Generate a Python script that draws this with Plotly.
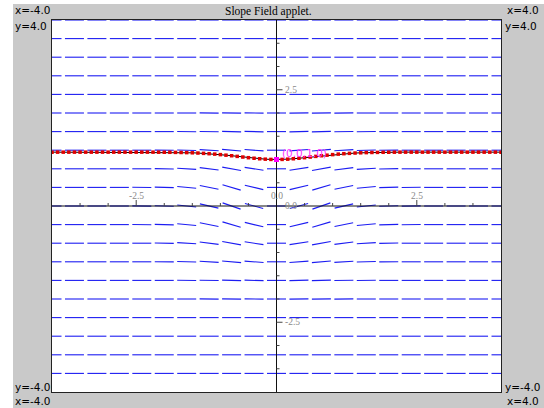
import math
import plotly.graph_objects as go

# ---------------- data ----------------
x_cols = [-4.0, -3.6, -3.2, -2.8, -2.4, -2.0, -1.6, -1.2, -0.8, -0.4, 0.0,
          0.4, 0.8, 1.2, 1.6, 2.0, 2.4, 2.8, 3.2, 3.6, 4.0]
y_rows = [4.0, 3.6, 3.2, 2.8, 2.4, 2.0, 1.6, 1.2, 0.8, 0.4, 0.0,
          -0.4, -0.8, -1.2, -1.6, -2.0, -2.4, -2.8, -3.2, -3.6]

flat_row = [0.0] * 21
row_y20 = [0, 0, 0, 0, 0, 0, 0, -0.01, -0.01, -0.01, 0, 0.01, 0.01, 0.01, 0, 0, 0, 0, 0, 0, 0]
row_y16 = [0, 0, 0, 0, 0, 0, -0.01, -0.02, -0.03, -0.03, 0, 0.03, 0.03, 0.02, 0.01, 0, 0, 0, 0, 0, 0]
row_y12 = [0, 0, 0, 0, 0, -0.01, -0.03, -0.07, -0.10, -0.08, 0, 0.08, 0.10, 0.07, 0.03, 0.01, 0, 0, 0, 0, 0]
row_y08 = [0, 0, 0, 0, 0, -0.02, -0.07, -0.15, -0.22, -0.18, 0, 0.18, 0.22, 0.15, 0.07, 0.02, 0, 0, 0, 0, 0]
row_y04 = [0, 0, 0, 0, -0.01, -0.03, -0.11, -0.24, -0.36, -0.29, 0, 0.29, 0.36, 0.24, 0.11, 0.03, 0.01, 0, 0, 0, 0]
row_y00 = [0, 0, 0, 0, -0.01, -0.04, -0.12, -0.28, -0.42, -0.34, 0, 0.34, 0.42, 0.28, 0.12, 0.04, 0.01, 0, 0, 0, 0]

slopes = [flat_row, flat_row, flat_row, flat_row, flat_row,
          row_y20, row_y16, row_y12, row_y08, row_y04, row_y00,
          row_y04, row_y08, row_y12, row_y16, row_y20,
          flat_row, flat_row, flat_row, flat_row]

curve_x = [-4.0, -3.9, -3.8, -3.7, -3.6, -3.5, -3.4, -3.3, -3.2, -3.1, -3.0,
           -2.9, -2.8, -2.7, -2.6, -2.5, -2.4, -2.3, -2.2, -2.1, -2.0,
           -1.9, -1.8, -1.7, -1.6, -1.5, -1.4, -1.3, -1.2, -1.1, -1.0,
           -0.9, -0.8, -0.7, -0.6, -0.5, -0.4, -0.3, -0.2, -0.1, 0.0,
           0.1, 0.2, 0.3, 0.4, 0.5, 0.6, 0.7, 0.8, 0.9, 1.0,
           1.1, 1.2, 1.3, 1.4, 1.5, 1.6, 1.7, 1.8, 1.9, 2.0,
           2.1, 2.2, 2.3, 2.4, 2.5, 2.6, 2.7, 2.8, 2.9, 3.0,
           3.1, 3.2, 3.3, 3.4, 3.5, 3.6, 3.7, 3.8, 3.9, 4.0]
curve_y = [1.158, 1.158, 1.158, 1.158, 1.158, 1.158, 1.158, 1.158, 1.158, 1.158, 1.158,
           1.158, 1.158, 1.158, 1.158, 1.158, 1.158, 1.158, 1.158, 1.157, 1.156,
           1.155, 1.153, 1.151, 1.148, 1.144, 1.139, 1.132, 1.125, 1.116, 1.105,
           1.093, 1.081, 1.067, 1.053, 1.039, 1.027, 1.016, 1.007, 1.002, 1.000,
           1.002, 1.007, 1.016, 1.027, 1.039, 1.053, 1.067, 1.081, 1.093, 1.105,
           1.116, 1.125, 1.132, 1.139, 1.144, 1.148, 1.151, 1.153, 1.155, 1.156,
           1.157, 1.158, 1.158, 1.158, 1.158, 1.158, 1.158, 1.158, 1.158, 1.158,
           1.158, 1.158, 1.158, 1.158, 1.158, 1.158, 1.158, 1.158, 1.158, 1.158]

start_point = (0.0, 1.0)
start_label = "(0.0,1.0)"

minor_ticks = [-3.5, -3.0, -2.0, -1.5, -1.0, -0.5, 0.5, 1.0, 1.5, 2.0, 3.0, 3.5]
major_ticks = [-2.5, 2.5]
x_tick_labels = {-2.5: "-2.5", 0.0: "0.0", 2.5: "2.5"}
y_tick_labels = {2.5: "2.5", 0.0: "0.0", -2.5: "-2.5"}

title_text = "Slope Field applet."

# ---------------- geometry ----------------
W, H = 544, 408
ML, MR, MT, MB = 52, 43, 20, 16
PW, PH = W - ML - MR, H - MT - MB
XMIN, XMAX, YMIN, YMAX = -4.0, 4.0, -4.0, 4.0
kx = PW / (XMAX - XMIN)
ky = PH / (YMAX - YMIN)
HALF = 9.5  # half segment length in px


def px2paper_x(px):
    return (px - ML) / PW


def px2paper_y(py):
    return (H - MB - py) / PH


# slope segments
seg_x, seg_y = [], []
for i, yv in enumerate(y_rows):
    for j, xv in enumerate(x_cols):
        m = slopes[i][j]
        n = math.sqrt(kx * kx + (m * ky) ** 2)
        dx = HALF / n
        dy = m * dx
        seg_x += [xv - dx, xv + dx, None]
        seg_y += [yv - dy, yv + dy, None]

fig = go.Figure()
fig.add_trace(go.Scatter(x=seg_x, y=seg_y, mode="lines",
                         line=dict(color="#1c1cf2", width=1.1),
                         hoverinfo="skip", cliponaxis=True))

# central axes
fig.add_trace(go.Scatter(x=[XMIN, XMAX, None, 0, 0], y=[0, 0, None, YMIN, YMAX],
                         mode="lines", line=dict(color="#111111", width=1),
                         hoverinfo="skip"))

# ticks
tx, ty = [], []
for t in minor_ticks + major_ticks:
    L = 6 if t in major_ticks else 3
    tx += [t, t, None]
    ty += [0, L / ky, None]
    tx += [0, L / kx, None]
    ty += [t, t, None]
fig.add_trace(go.Scatter(x=tx, y=ty, mode="lines",
                         line=dict(color="#444444", width=1), hoverinfo="skip"))

# solution curve
fig.add_trace(go.Scatter(x=curve_x, y=curve_y, mode="lines+markers",
                         line=dict(color="#000000", width=1),
                         marker=dict(symbol="square", size=3.5, color="#e00000",
                                     line=dict(width=0)),
                         hoverinfo="skip"))
fig.add_trace(go.Scatter(x=[start_point[0]], y=[start_point[1]], mode="markers",
                         marker=dict(symbol="square", size=5, color="#ff00ff",
                                     line=dict(width=0)),
                         hoverinfo="skip"))

annotations = []
serif = "Liberation Serif"
sans = "DejaVu Sans"
for v, s in x_tick_labels.items():
    annotations.append(dict(x=v, y=0, xref="x", yref="y", text=s, showarrow=False,
                            yshift=10, font=dict(family=serif, size=9.5, color="#8a8a8a")))
for v, s in y_tick_labels.items():
    annotations.append(dict(x=0, y=v, xref="x", yref="y", text=s, showarrow=False,
                            xanchor="left", xshift=6,
                            font=dict(family=serif, size=9.5, color="#8a8a8a")))
annotations.append(dict(x=start_point[0], y=start_point[1], xref="x", yref="y",
                        text=start_label, showarrow=False, xanchor="left",
                        xshift=3, yshift=7,
                        font=dict(family=sans, size=10.5, color="#ff33ff")))
annotations.append(dict(x=px2paper_x(268), y=px2paper_y(11), xref="paper", yref="paper",
                        text=title_text, showarrow=False, yanchor="middle",
                        font=dict(family=serif, size=11.5, color="#000000")))

corner = [
    ("x=-4.0", 13, 10, "left"), ("y=4.0", 13, 26, "left"),
    ("x=4.0", 541, 10, "right"), ("y=4.0", 503, 26, "left"),
    ("y=-4.0", 13, 387, "left"), ("x=-4.0", 13, 401, "left"),
    ("y=-4.0", 503, 387, "left"), ("x=4.0", 541, 401, "right"),
]
for txt, px, py, anc in corner:
    annotations.append(dict(x=px2paper_x(px), y=px2paper_y(py), xref="paper", yref="paper",
                            text=txt, showarrow=False, xanchor=anc, yanchor="middle",
                            font=dict(family=sans, size=10.5, color="#000000")))

shapes = [
    dict(type="rect", xref="paper", yref="paper", layer="below",
         x0=px2paper_x(-5), x1=px2paper_x(13), y0=px2paper_y(H + 5), y1=px2paper_y(-5),
         fillcolor="white", line=dict(width=0)),
    dict(type="rect", xref="paper", yref="paper", layer="below",
         x0=px2paper_x(-5), x1=px2paper_x(W + 5), y0=px2paper_y(4), y1=px2paper_y(-5),
         fillcolor="white", line=dict(width=0)),
]

axis_common = dict(range=[XMIN, XMAX], showgrid=False, zeroline=False,
                   showticklabels=False, ticks="", showline=True, mirror=True,
                   linecolor="#222222", linewidth=1, fixedrange=True)
fig.update_layout(
    width=W, height=H,
    margin=dict(l=ML, r=MR, t=MT, b=MB),
    paper_bgcolor="#c9c9c9", plot_bgcolor="#ffffff",
    showlegend=False,
    xaxis=axis_common,
    yaxis=dict(axis_common, range=[YMIN, YMAX]),
    annotations=annotations,
    shapes=shapes,
)

fig.write_html("out.html", config={"displayModeBar": False},
               post_script="document.body.style.margin='0';document.body.style.overflow='hidden';")
